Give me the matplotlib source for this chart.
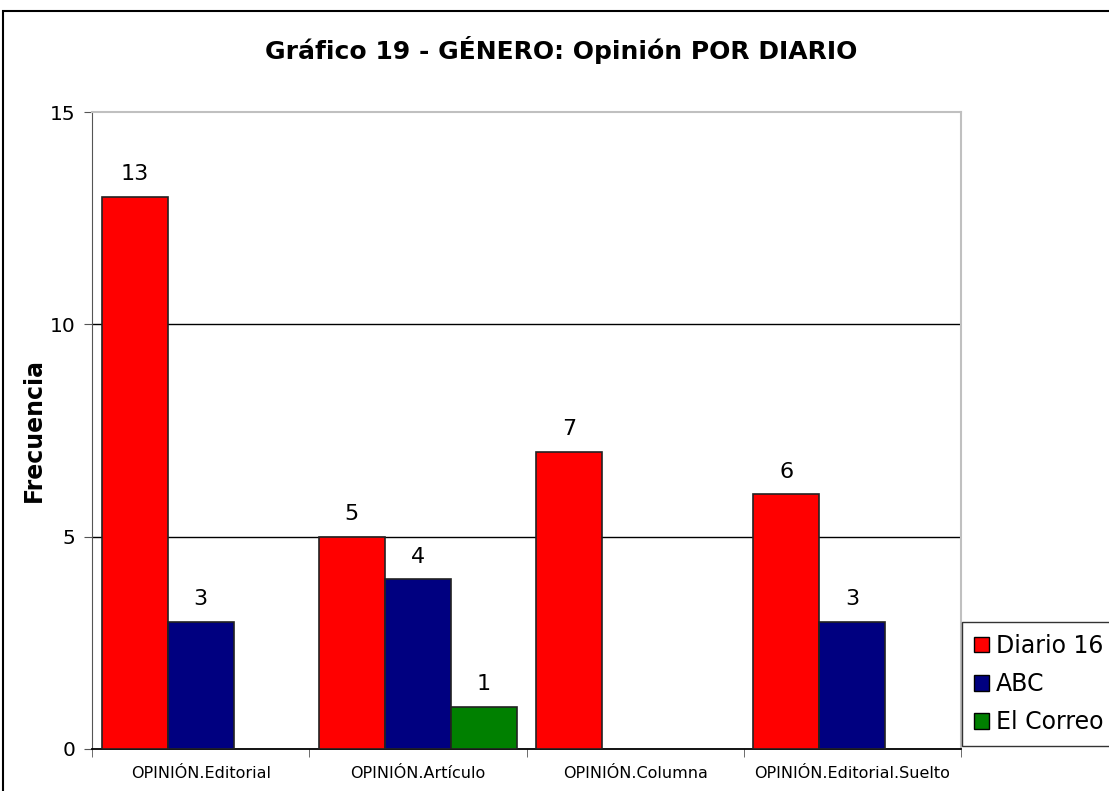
import numpy as np
import matplotlib
matplotlib.use("Agg")
import matplotlib.pyplot as plt
from matplotlib.patches import Patch, Rectangle

# Chart data
categories = ["OPINIÓN.Editorial", "OPINIÓN.Artículo", "OPINIÓN.Columna", "OPINIÓN.Editorial.Suelto"]
series_names = ["Diario 16", "ABC", "El Correo"]
diario16 = [13, 5, 7, 6]
abc = [3, 4, 0, 3]
el_correo = [0, 1, 0, 0]
colors = ["#ff0000", "#000080", "#008000"]
y_ticks = [0, 5, 10, 15]

plt.rcParams['font.family'] = ['DejaVu Sans']

fig = plt.figure(figsize=(11.09, 7.91), dpi=100)
ax = fig.add_axes([92 / 1109, 1 - 749 / 791, (961 - 92) / 1109, (749 - 112) / 791])

# outer chart frame (runs off the right/bottom edge like the original)
fig.patches.append(Rectangle((3 / 1109, -0.1), 1.2, 1.1 - 11 / 791, transform=fig.transFigure,
                             fill=False, edgecolor="black", linewidth=1.5))

x = np.arange(len(categories))
w = 0.304
all_series = [diario16, abc, el_correo]
for i, (vals, c) in enumerate(zip(all_series, colors)):
    pos = x + (i - 1) * w
    for xp, v in zip(pos, vals):
        if v == 0:
            continue
        ax.bar(xp, v, width=w, color=c, edgecolor="#222222", linewidth=1.2, zorder=3)
        ax.annotate(str(v), (xp, v), xytext=(0, 9), textcoords="offset points",
                    ha="center", va="bottom", fontsize=16)

ax.set_xlim(-0.5, len(categories) - 0.5)
ax.set_ylim(0, 15)
ax.set_yticks(y_ticks)
ax.set_yticklabels([str(t) for t in y_ticks], fontsize=14.5)
for t in [5, 10]:
    ax.axhline(t, color="black", linewidth=1, zorder=1)

ax.set_xticks(x)
ax.set_xticklabels(categories, fontsize=11.5)
ax.tick_params(axis="x", length=0, pad=12)
ax.set_xticks(np.arange(len(categories) + 1) - 0.5, minor=True)
ax.tick_params(axis="x", which="minor", length=6, color="#555555")
ax.tick_params(axis="y", length=6, color="#555555", pad=6)

ax.spines["top"].set_color("#c0c0c0")
ax.spines["right"].set_color("#c0c0c0")
ax.spines["top"].set_linewidth(1.5)
ax.spines["right"].set_linewidth(1.5)
ax.spines["left"].set_color("#555555")
ax.spines["bottom"].set_color("black")
ax.spines["bottom"].set_linewidth(1.3)

ax.set_ylabel("Frecuencia", fontsize=17, fontweight="bold", labelpad=3)
fig.text(561 / 1109, 1 - 50 / 791, "Gráfico 19 - GÉNERO: Opinión POR DIARIO",
         ha="center", va="center", fontsize=18, fontweight="bold")

handles = [Patch(facecolor=c, edgecolor="black", label=n) for c, n in zip(colors, series_names)]
leg = fig.legend(handles=handles, loc="upper left", bbox_to_anchor=(962 / 1109, 1 - 622 / 791),
                 fontsize=17, frameon=True, fancybox=False, edgecolor="black",
                 handlelength=0.65, handleheight=0.65, handletextpad=0.3,
                 borderpad=0.5, labelspacing=0.6, borderaxespad=0)
leg.get_frame().set_linewidth(1)

fig.savefig("out.png", dpi=100)
